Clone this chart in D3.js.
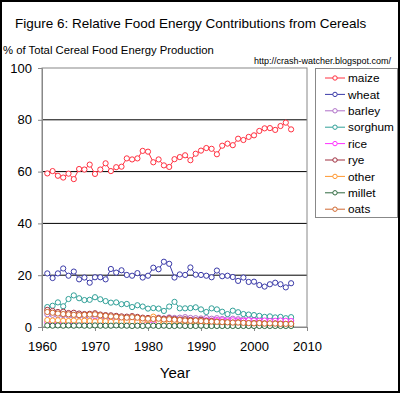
<!DOCTYPE html>
<html>
<head>
<meta charset="utf-8">
<script src="https://cdn.jsdelivr.net/npm/d3@7"></script>
<style>
  body { margin: 0; background: #fff; }
  svg { display: block; font-family: "Liberation Sans", Arial, sans-serif; }
</style>
</head>
<body>
<div id="chart"></div>
<script>
var W = 400, H = 393;
var m = {t:68, r:93, b:66, l:42};

var years = d3.range(1961, 2008);

var maize = [59.3,60.2,58.4,57.7,59.2,57.1,61.0,60.8,62.7,59.1,60.8,63.2,60.2,61.7,61.9,65.1,64.7,65.1,68.0,67.7,63.6,64.7,62.4,61.8,64.8,65.6,66.3,64.4,66.9,68.1,69.1,68.8,66.7,70.0,70.8,70.2,72.7,72.2,73.4,74.0,75.7,76.7,76.8,76.1,77.6,78.9,76.3];
var wheat = [20.7,18.9,20.7,22.6,19.8,21.4,18.4,19.1,17.1,19.2,19.2,18.4,22.4,21.0,21.9,20.1,19.8,20.8,19.1,19.8,22.9,22.3,25.2,24.4,19.1,20.3,20.1,23.0,20.2,20.1,19.8,19.2,21.8,19.6,19.8,19.3,17.8,19.1,17.4,17.5,16.2,15.6,16.5,17.1,16.5,15.3,16.9];
var barley = [4.9,4.7,4.5,4.6,4.4,4.2,4.3,4.1,4.0,4.2,3.9,3.8,3.7,3.6,3.5,3.4,3.6,3.5,3.3,3.2,3.4,3.6,3.3,3.7,3.5,3.6,3.8,3.5,3.4,3.3,3.5,3.2,3.4,3.1,3.0,3.2,3.0,2.9,2.8,2.9,2.7,2.6,2.8,2.7,2.6,2.5,2.6];
var sorghum = [7.7,8.2,9.5,8.0,10.8,12.2,11.1,10.4,10.5,11.5,10.7,10.0,9.4,9.5,8.8,8.9,7.7,8.4,7.9,7.1,7.3,7.1,6.2,7.9,9.7,7.2,7.2,7.3,7.6,6.8,5.8,7.2,6.8,5.9,5.0,6.3,5.7,5.0,4.8,4.6,4.3,3.9,4.1,3.7,3.9,3.4,3.8];
var rice = [1.8,1.9,1.8,2.0,1.9,1.8,2.0,2.1,2.0,2.2,2.1,2.0,2.2,2.1,2.3,2.2,2.1,2.3,2.2,2.3,2.4,2.3,2.5,2.4,2.6,2.5,2.4,2.6,2.5,2.7,2.6,2.5,2.7,2.6,2.5,2.6,2.5,2.4,2.6,2.5,2.4,2.5,2.3,2.4,2.5,2.4,2.3];
var rye = [6.6,6.2,5.8,5.9,5.4,5.5,5.2,5.0,5.1,5.3,4.8,4.6,4.5,4.3,4.1,4.0,4.2,3.9,3.6,3.5,3.3,3.4,3.2,3.4,3.1,2.9,3.0,2.7,2.6,2.8,2.4,2.3,2.1,1.9,1.8,1.7,1.8,1.6,1.5,1.5,1.6,1.4,1.3,1.4,1.3,1.2,1.3];
var other = [2.7,2.5,2.6,2.4,2.3,2.5,2.2,2.4,2.3,2.1,2.3,2.2,2.0,2.1,2.0,2.3,2.1,2.0,2.4,2.6,4.0,2.2,2.0,1.9,1.8,1.7,1.8,1.6,1.7,1.5,1.6,1.4,1.5,1.4,1.3,1.4,1.3,1.2,1.3,1.2,1.3,1.2,1.1,1.2,1.1,1.0,1.1];
var millet = [0.6,0.5,0.6,0.5,0.6,0.5,0.6,0.5,0.5,0.6,0.5,0.5,0.5,0.6,0.5,0.5,0.4,0.5,0.4,0.5,0.5,0.4,0.5,0.4,0.4,0.5,0.4,0.4,0.4,0.5,0.4,0.4,0.4,0.4,0.4,0.4,0.4,0.4,0.4,0.4,0.4,0.4,0.4,0.4,0.4,0.4,0.4];
var oats = [5.8,5.5,5.2,5.0,4.9,4.7,4.6,4.7,4.8,4.9,4.5,4.3,4.1,4.0,3.7,3.6,3.8,3.6,3.3,3.2,3.1,3.2,2.9,3.0,2.8,2.7,2.5,2.4,2.5,2.3,2.2,2.1,2.0,1.9,1.8,1.7,1.7,1.6,1.5,1.4,1.5,1.3,1.4,1.3,1.2,1.2,1.2];

var names = ["maize","wheat","barley","sorghum","rice","rye","other","millet","oats"];
var colors = ["#ff3040","#3a3aa8","#b070c8","#30a098","#ff30ff","#a03040","#ff9830","#306a40","#d06830"];
var xTicks = [1960,1970,1980,1990,2000,2010];
var yTicks = [0,20,40,60,80,100];

var series = [maize,wheat,barley,sorghum,rice,rye,other,millet,oats].map(function(v,i){
  return {name: names[i], color: colors[i], values: v.map(function(d,j){ return {year: years[j], value: d}; })};
});

var svg = d3.select("#chart").append("svg")
  .attr("width", W)
  .attr("height", H);

svg.append("rect")
  .attr("x",1).attr("y",1)
  .attr("width",W-2).attr("height",H-2)
  .attr("fill","#fff")
  .attr("stroke","#000")
  .attr("stroke-width",2);

var x = d3.scaleLinear().domain([1960,2010]).range([m.l, W-m.r]);
var y = d3.scaleLinear().domain([0,100]).range([H-m.b, m.t]);

// gridlines
svg.selectAll(".grid")
  .data(yTicks.filter(function(d){ return d > 0 && d < 100; }))
  .enter()
  .append("line")
  .attr("class","grid")
  .attr("x1", x(1960)).attr("x2", x(2010))
  .attr("y1", function(d){ return y(d); })
  .attr("y2", function(d){ return y(d); })
  .attr("stroke","#000")
  .attr("stroke-width",1);

// plot frame
svg.append("rect")
  .attr("x", x(1960)).attr("y", y(100))
  .attr("width", x(2010)-x(1960))
  .attr("height", y(0)-y(100))
  .attr("fill","none")
  .attr("stroke","#888")
  .attr("stroke-width",1);

// axes
var yAxis = svg.append("g")
  .attr("transform","translate("+x(1960)+",0)")
  .call(d3.axisLeft(y).tickValues(yTicks).tickSize(4).tickPadding(6));
var xAxis = svg.append("g")
  .attr("transform","translate(0,"+y(0)+")")
  .call(d3.axisBottom(x).tickValues(xTicks).tickFormat(d3.format("d")).tickSize(4).tickPadding(11));

[yAxis, xAxis].forEach(function(a){
  a.select(".domain").attr("stroke","#888");
  a.selectAll(".tick line").attr("stroke","#888");
  a.selectAll("text")
    .attr("font-family","Liberation Sans, Arial, sans-serif")
    .attr("font-size","13px")
    .attr("fill","#000");
});

// lines and markers
var line = d3.line()
  .x(function(d){ return x(d.year); })
  .y(function(d){ return y(d.value); });

var g = svg.selectAll(".series")
  .data(series)
  .enter()
  .append("g")
  .attr("class","series");

g.append("path")
  .attr("d", function(d){ return line(d.values); })
  .attr("fill","none")
  .attr("stroke", function(d){ return d.color; })
  .attr("stroke-width",1);

g.selectAll("circle")
  .data(function(d){ return d.values.map(function(v){ v.color = d.color; return v; }); })
  .enter()
  .append("circle")
  .attr("cx", function(d){ return x(d.year); })
  .attr("cy", function(d){ return y(d.value); })
  .attr("r", 2.6)
  .attr("fill","#fff")
  .attr("stroke", function(d){ return d.color; })
  .attr("stroke-width",1);

// legend
var legend = svg.append("g");
legend.append("rect")
  .attr("x",315.5).attr("y",68.5)
  .attr("width",82).attr("height",149)
  .attr("fill","#fff")
  .attr("stroke","#888");

var item = legend.selectAll(".item")
  .data(series)
  .enter()
  .append("g")
  .attr("class","item")
  .attr("transform", function(d,i){ return "translate(0,"+(78 + i*16.4)+")"; });

item.append("line")
  .attr("x1",325).attr("x2",345)
  .attr("stroke", function(d){ return d.color; })
  .attr("stroke-width",1);
item.append("circle")
  .attr("cx",335).attr("r",2.2)
  .attr("fill","#fff")
  .attr("stroke", function(d){ return d.color; });
item.append("text")
  .attr("x",348).attr("dy","0.35em")
  .attr("font-size","11.8px")
  .text(function(d){ return d.name; });

// texts
svg.append("text")
  .attr("x",15).attr("y",28)
  .attr("font-size","13.5px")
  .text("Figure 6: Relative Food Energy Contributions from Cereals");
svg.append("text")
  .attr("x",3).attr("y",54)
  .attr("font-size","11.3px")
  .text("% of Total Cereal Food Energy Production");
svg.append("text")
  .attr("x",391).attr("y",64)
  .attr("text-anchor","end")
  .attr("font-size","9px")
  .text("http://crash-watcher.blogspot.com/");
svg.append("text")
  .attr("x",175).attr("y",378)
  .attr("text-anchor","middle")
  .attr("font-size","15px")
  .text("Year");
</script>
</body>
</html>
